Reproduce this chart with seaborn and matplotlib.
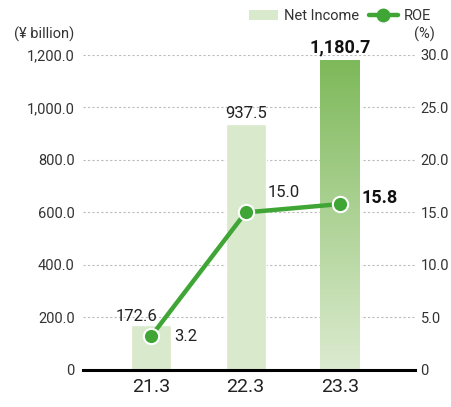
import matplotlib
matplotlib.use("Agg")
import matplotlib.pyplot as plt
from matplotlib.lines import Line2D
from matplotlib.patches import Patch
import matplotlib.colors as mcolors
import seaborn as sns
import numpy as np
import pandas as pd

sns.set_theme(style="white")
plt.rcParams['font.family'] = ['Roboto', 'DejaVu Sans']

years = ["21.3", "22.3", "23.3"]
net_income = [172.6, 937.5, 1180.7]
roe = [3.2, 15.0, 15.8]
income_labels = ["172.6", "937.5", "1,180.7"]
roe_labels = ["3.2", "15.0", "15.8"]

df = pd.DataFrame({"year": years, "net_income": net_income, "roe": roe})

light = "#d9e9cc"
green = "#3fa535"

fig = plt.figure(figsize=(4.51, 4.07), dpi=100)
ax = fig.add_axes([0.184, 0.091, 0.736, 0.774])

sns.barplot(data=df, x="year", y="net_income", color=light, width=0.42,
            saturation=1, ax=ax)

# gradient on latest bar
bar = ax.patches[2]
x0, w, h = bar.get_x(), bar.get_width(), bar.get_height()
bar.set_facecolor("none")
cmap = mcolors.LinearSegmentedColormap.from_list("g", ["#dcebd0", "#7eb95a"])
grad = np.linspace(0, 1, 256).reshape(-1, 1)
im = ax.imshow(grad, cmap=cmap, aspect="auto", origin="lower",
               extent=[x0, x0 + w, 0, h], zorder=2)
im.set_clip_path(bar)

ax.set_xlim(-0.72, 2.79)
ax.set_ylim(0, 1200)
ax.set_yticks(np.arange(0, 1201, 200))
ax.set_yticklabels(["0"] + [f"{v:,.1f}" for v in np.arange(200, 1201, 200)])
ax.yaxis.grid(True, linestyle=(0, (2, 2)), color="#bbbbbb", linewidth=0.8)
ax.set_axisbelow(True)
ax.set_xlabel("")
ax.set_ylabel("")
for s in ["left", "right", "top"]:
    ax.spines[s].set_visible(False)
ax.spines["bottom"].set_color("black")
ax.spines["bottom"].set_linewidth(2.2)
ax.tick_params(axis="y", length=0, labelsize=10.5, labelcolor="#333333", pad=6)
ax.tick_params(axis="x", length=0, labelsize=14, labelcolor="#222222", pad=6)

ax2 = ax.twinx()
sns.lineplot(x=np.arange(3), y=roe, ax=ax2, color=green, linewidth=3.2,
             marker="o", markersize=11, markerfacecolor=green,
             markeredgecolor="white", markeredgewidth=1.5, zorder=5)
ax2.set_ylim(0, 30)
ax2.set_yticks(np.arange(0, 31, 5))
ax2.set_yticklabels(["0"] + [f"{v:.1f}" for v in np.arange(5, 31, 5)])
for s in ["left", "right", "top", "bottom"]:
    ax2.spines[s].set_visible(False)
ax2.tick_params(axis="y", length=0, labelsize=10.5, labelcolor="#333333", pad=4)
ax2.set_ylabel("")

# value labels
ax.text(-0.15, net_income[0] + 2, income_labels[0], ha="center", va="bottom",
        fontsize=12, color="#222222")
ax.text(1, net_income[1] + 10, income_labels[1], ha="center", va="bottom",
        fontsize=12, color="#222222")
ax.text(2, net_income[2] + 12, income_labels[2], ha="center", va="bottom",
        fontsize=13, fontweight="bold", color="#111111")
ax2.text(0.25, roe[0], roe_labels[0], ha="left", va="center",
         fontsize=12, color="#222222")
ax2.text(1.4, roe[1] + 1.2, roe_labels[1], ha="center", va="bottom",
         fontsize=12, color="#222222")
ax2.text(2.23, roe[2] + 0.6, roe_labels[2], ha="left", va="center",
         fontsize=13, fontweight="bold", color="#111111")

fig.text(0.03, 0.905, "(¥ billion)", fontsize=10.5, color="#333333")
fig.text(0.918, 0.905, "(%)", fontsize=10.5, color="#333333")

handles = [Patch(facecolor=light, edgecolor="none", label="Net Income"),
           Line2D([0], [0], color=green, linewidth=3.2, marker="o",
                  markersize=9, markeredgecolor=green, label="ROE")]
fig.legend(handles=handles, loc="upper right", bbox_to_anchor=(0.985, 1.01),
           ncol=2, frameon=False, fontsize=10.5, handlelength=2.0,
           columnspacing=0.7, handletextpad=0.4, labelcolor="#333333")

fig.savefig("out.png", dpi=100)
